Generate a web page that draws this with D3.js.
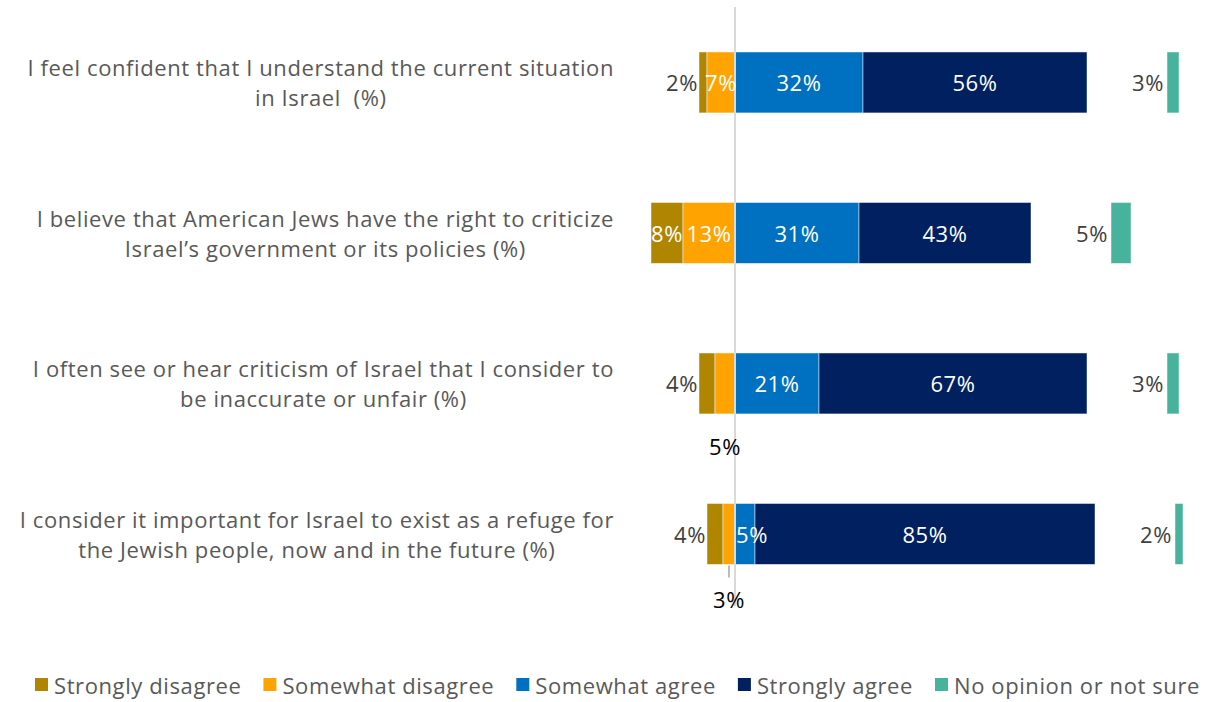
<!DOCTYPE html>
<html>
<head>
<meta charset="utf-8">
<script src="https://cdn.jsdelivr.net/npm/d3@7"></script>
<style>
  html, body { margin: 0; padding: 0; background: #fff; }
  svg { display: block; font-family: "Open Sans", Lato, sans-serif; letter-spacing: 0.6px; }
  text { white-space: pre; }
</style>
</head>
<body>
<svg id="chart" width="1211" height="702"></svg>
<script>
// Survey statements, one per row (line breaks as displayed)
const statements = [
  ["I feel confident that I understand the current situation", "in Israel  (%)"],
  ["I believe that American Jews have the right to criticize", "Israel\u2019s government or its policies (%)"],
  ["I often see or hear criticism of Israel that I consider to", "be inaccurate or unfair (%)"],
  ["I consider it important for Israel to exist as a refuge for", "the Jewish people, now and in the future (%)"]
];

const seriesNames = ["Strongly disagree", "Somewhat disagree", "Somewhat agree", "Strongly agree", "No opinion or not sure"];
const seriesColors = ["#B08500", "#FFA300", "#0070C0", "#002060", "#47B39C"];

const stronglyDisagree = [2, 8, 4, 4];
const somewhatDisagree = [7, 13, 5, 3];
const somewhatAgree    = [32, 31, 21, 5];
const stronglyAgree    = [56, 43, 67, 85];
const noOpinion        = [3, 5, 3, 2];

// blank space (in %) between the agree bars and the "no opinion" bar
const noOpinionGap = 20;

const svg = d3.select("#chart");
const textColor = "#595959";
const valueColor = "#404040";

const x = d3.scaleLinear().domain([-25, 115]).range([635, 1195]);
const y = d3.scaleBand().domain(d3.range(statements.length))
  .range([7.2, 609.2]).paddingInner(0.595).paddingOuter(0.2975);
const bh = y.bandwidth();

// Build segments per row
const segs = [];
statements.forEach((s, i) => {
  const sd = stronglyDisagree[i], wd = somewhatDisagree[i];
  const wa = somewhatAgree[i], sa = stronglyAgree[i], no = noOpinion[i];
  segs.push({row: i, k: 0, v: sd, x0: -(sd + wd), x1: -wd});
  segs.push({row: i, k: 1, v: wd, x0: -wd, x1: 0});
  segs.push({row: i, k: 2, v: wa, x0: 0, x1: wa});
  segs.push({row: i, k: 3, v: sa, x0: wa, x1: wa + sa});
  const start = wa + sa + noOpinionGap;
  segs.push({row: i, k: 4, v: no, x0: start, x1: start + no});
});

// Bars
svg.append("g").selectAll("rect").data(segs).join("rect")
  .attr("x", d => x(d.x0))
  .attr("y", d => y(d.row))
  .attr("width", d => x(d.x1) - x(d.x0))
  .attr("height", bh)
  .attr("fill", d => seriesColors[d.k])
  .attr("stroke", "#ffffff")
  .attr("stroke-opacity", 0.6)
  .attr("stroke-width", 0.8);

// Zero line
svg.append("line")
  .attr("x1", x(0)).attr("x2", x(0))
  .attr("y1", 7).attr("y2", 606)
  .attr("stroke", "#d9d9d9").attr("stroke-width", 2);

// Value labels
const fs = 22;
const labels = svg.append("g").attr("font-size", fs);
segs.forEach(d => {
  const cy = y(d.row) + bh / 2;
  const w = x(d.x1) - x(d.x0);
  const txt = d.v + "%";
  if (d.k === 4) {
    labels.append("text").attr("x", x(d.x0) - 3).attr("y", cy)
      .attr("text-anchor", "end").attr("dominant-baseline", "central")
      .attr("fill", valueColor).text(txt);
  } else if (d.k >= 2) {
    labels.append("text").attr("x", d.v < 8 ? x(d.x0) + 1 : (x(d.x0) + x(d.x1)) / 2).attr("y", cy)
      .attr("text-anchor", d.v < 8 ? "start" : "middle").attr("dominant-baseline", "central")
      .attr("fill", "#ffffff").text(txt);
  } else if (w >= 28) {
    labels.append("text").attr("x", (x(d.x0) + x(d.x1)) / 2).attr("y", cy)
      .attr("text-anchor", "middle").attr("dominant-baseline", "central")
      .attr("fill", "#ffffff").text(txt);
  } else if (d.k === 0) {
    labels.append("text").attr("x", x(d.x0) - 1).attr("y", cy)
      .attr("text-anchor", "end").attr("dominant-baseline", "central")
      .attr("fill", valueColor).text(txt);
  } else {
    // small "somewhat disagree" segment: label beneath the bar
    const mx = (x(d.x0) + x(d.x1)) / 2;
    const ly = y(d.row) + bh + (d.v <= 3 ? 35 : 32);
    if (d.v <= 3) {
      svg.append("line").attr("x1", mx).attr("x2", mx)
        .attr("y1", y(d.row) + bh + 1).attr("y2", y(d.row) + bh + 13)
        .attr("stroke", "#a6a6a6").attr("stroke-width", 1.5);
    }
    labels.append("text").attr("x", mx).attr("y", ly)
      .attr("text-anchor", "middle").attr("dominant-baseline", "central")
      .attr("fill", "#000000").text(txt);
  }
});

// Statement labels: each line centred, block right-aligned to the chart
const catRight = 614;
statements.forEach((lines, i) => {
  const cy = y(i) + bh / 2;
  const g = svg.append("g").attr("font-size", fs).attr("fill", textColor);
  const texts = lines.map((ln, j) => g.append("text")
    .attr("y", cy - 15 + j * 30)
    .attr("dominant-baseline", "central")
    .attr("text-anchor", "middle")
    .text(ln));
  const maxW = d3.max(texts, t => t.node().getComputedTextLength());
  texts.forEach(t => t.attr("x", catRight - maxW / 2));
});

// Legend: items spread evenly across the bottom
const legend = svg.append("g").attr("font-size", fs).attr("fill", textColor);
const legLeft = 35, legRight = 1200, ly = 685, sw = 13, sgap = 6;
const items = seriesNames.map((name, k) => {
  const g = legend.append("g");
  g.append("rect").attr("y", ly - 7).attr("width", sw).attr("height", sw)
    .attr("fill", seriesColors[k]);
  const t = g.append("text").attr("x", sw + sgap).attr("y", ly)
    .attr("dominant-baseline", "central").text(name);
  return {g, w: sw + sgap + t.node().getComputedTextLength()};
});
const spare = (legRight - legLeft - d3.sum(items, d => d.w)) / (items.length - 1);
let lx = legLeft;
items.forEach(d => {
  d.g.attr("transform", `translate(${lx},0)`);
  lx += d.w + spare;
});
</script>
</body>
</html>
